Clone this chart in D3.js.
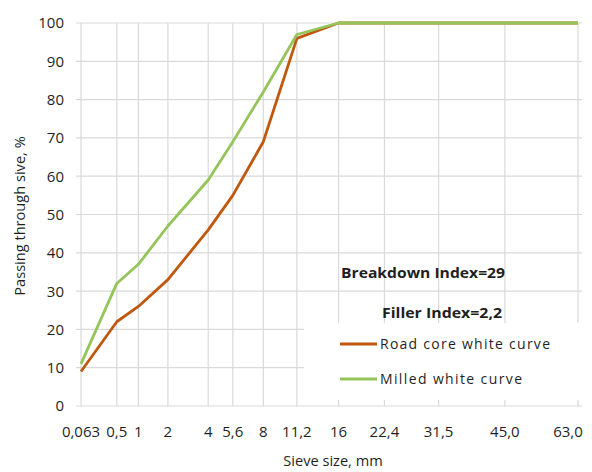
<!DOCTYPE html>
<html>
<head>
<meta charset="utf-8">
<script src="https://cdn.jsdelivr.net/npm/d3@7"></script>
<style>
  html, body { margin: 0; padding: 0; background: #fff; }
  svg { display: block; font-family: "Open Sans", sans-serif; }
</style>
</head>
<body>
<svg id="chart" width="592" height="472"></svg>
<script>
// Sieve sizes (mm) and their axis labels
const sieveSizes = [0.063, 0.5, 1, 2, 4, 5.6, 8, 11.2, 16, 22.4, 31.5, 45, 63];
const sieveLabels = ["0,063", "0,5", "1", "2", "4", "5,6", "8", "11,2", "16", "22,4", "31,5", "45,0", "63,0"];

// Passing through each sieve, %
const roadCore = [9, 22, 26, 33, 46, 55, 69, 96, 100, 100, 100, 100, 100];
const milled   = [11, 32, 37, 47, 59, 69, 82, 97, 100, 100, 100, 100, 100];

const yTicks = [0, 10, 20, 30, 40, 50, 60, 70, 80, 90, 100];

const seriesNames = ["Road core white curve", "Milled white curve"];
const seriesColors = ["#C0580F", "#95C55A"];
const notes = ["Breakdown Index=29", "Filler Index=2,2"];

const svg = d3.select("#chart");
const plot = { left: 81, right: 578, top: 23, bottom: 406, gridRight: 582 };
const textColor = "#1f1f1f";

// Grading curves use the 0.45 power chart for the sieve axis
const x = d3.scalePow().exponent(0.45).domain([0.063, 63]).range([plot.left, plot.right]);
const y = d3.scaleLinear().domain([0, 100]).range([plot.bottom, plot.top]);

const grid = svg.append("g").attr("stroke", "#D9D9D9").attr("stroke-width", 1.2);

// horizontal grid with small ticks left of the axis
grid.selectAll("line.h").data(yTicks).join("line")
  .attr("class", "h")
  .attr("x1", plot.left - 5).attr("x2", plot.gridRight)
  .attr("y1", d => y(d)).attr("y2", d => y(d));

// vertical grid at every sieve
grid.selectAll("line.v").data(sieveSizes).join("line")
  .attr("class", "v")
  .attr("x1", d => x(d)).attr("x2", d => x(d))
  .attr("y1", plot.top).attr("y2", plot.bottom);

// y tick labels
svg.append("g").selectAll("text").data(yTicks).join("text")
  .attr("x", 64).attr("y", d => y(d)).attr("dy", "0.36em")
  .attr("text-anchor", "end")
  .attr("font-size", 15).attr("fill", textColor)
  .text(d => d);

// x tick labels
svg.append("g").selectAll("text").data(sieveSizes).join("text")
  .attr("x", (d, i) => i === sieveSizes.length - 1 ? x(d) - 10 : x(d))
  .attr("y", 437)
  .attr("text-anchor", "middle")
  .attr("font-size", 15).attr("fill", textColor)
  .text((d, i) => sieveLabels[i]);

// axis titles
svg.append("text")
  .attr("x", 333).attr("y", 466)
  .attr("text-anchor", "middle").attr("font-size", 14.6).attr("fill", textColor)
  .text("Sieve size, mm");

svg.append("text")
  .attr("transform", "translate(25,216) rotate(-90)")
  .attr("text-anchor", "middle").attr("font-size", 14.6).attr("fill", textColor)
  .text("Passing through sive, %");

// curves
const line = d3.line().x((d, i) => x(sieveSizes[i])).y(d => y(d));
[roadCore, milled].forEach((vals, k) => {
  svg.append("path")
    .datum(vals)
    .attr("fill", "none")
    .attr("stroke", seriesColors[k])
    .attr("stroke-width", 2.8)
    .attr("stroke-linejoin", "round")
    .attr("d", line);
});

// annotation text
svg.append("text")
  .attr("x", 341).attr("y", 278)
  .attr("font-size", 14.4).attr("font-weight", "bold").attr("fill", textColor)
  .attr("textLength", 164).attr("lengthAdjust", "spacingAndGlyphs")
  .text(notes[0]);
svg.append("text")
  .attr("x", 382).attr("y", 318)
  .attr("font-size", 14.4).attr("font-weight", "bold").attr("fill", textColor)
  .attr("textLength", 120).attr("lengthAdjust", "spacingAndGlyphs")
  .text(notes[1]);

// legend
const legend = svg.append("g");
legend.append("rect")
  .attr("x", 304).attr("y", 323).attr("width", 281).attr("height", 77)
  .attr("fill", "#fff");
const legendY = [344, 379];
const legendWidths = [170, 142];
seriesNames.forEach((name, k) => {
  legend.append("line")
    .attr("x1", 340).attr("x2", 377)
    .attr("y1", legendY[k]).attr("y2", legendY[k])
    .attr("stroke", seriesColors[k]).attr("stroke-width", 2.8);
  legend.append("text")
    .attr("x", 380).attr("y", legendY[k]).attr("dy", "0.36em")
    .attr("font-size", 14).attr("fill", textColor)
    .attr("textLength", legendWidths[k]).attr("lengthAdjust", "spacing")
    .text(name);
});
</script>
</body>
</html>
